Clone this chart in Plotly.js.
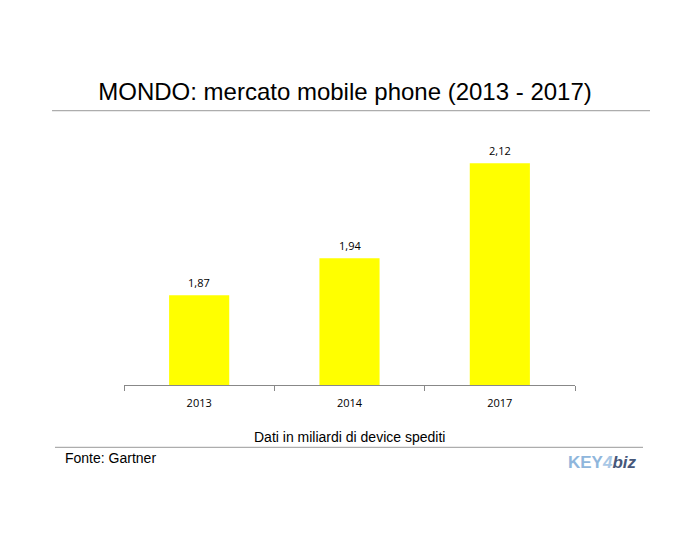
<!DOCTYPE html>
<html>
<head>
<meta charset="utf-8">
<script src="https://cdn.plot.ly/plotly-3.0.1.min.js"></script>
<style>html,body{margin:0;padding:0;background:#fff;}#chart{width:700px;height:550px;}</style>
</head>
<body>
<div id="chart"></div>
<script>
var years = ['2013', '2014', '2017'];
var shipments = [1.87, 1.94, 2.12];
var titleText = 'MONDO: mercato mobile phone (2013 - 2017)';
var noteText = 'Dati in miliardi di device spediti';
var sourceText = 'Fonte: Gartner';

var trace = {
  type: 'bar',
  x: years,
  y: shipments,
  marker: {color: '#ffff00'},
  hoverinfo: 'none'
};

var annotations = years.map(function (yr, i) {
  return {
    x: i, y: shipments[i], xref: 'x', yref: 'y',
    text: shipments[i].toFixed(2).replace('.', ','),
    showarrow: false, yanchor: 'middle', yshift: 13,
    font: {family: 'Open Sans, DejaVu Sans, sans-serif', size: 11, color: '#000'}
  };
});
annotations.push({
  xref: 'paper', yref: 'paper', x: 0.501, y: -0.197,
  text: noteText, showarrow: false, xanchor: 'center', yanchor: 'middle',
  font: {family: 'Liberation Sans, Arial, sans-serif', size: 14, color: '#000'}
});
annotations.push({
  xref: 'paper', yref: 'paper', x: -0.136, y: -0.2765,
  text: sourceText, showarrow: false, xanchor: 'left', yanchor: 'middle',
  font: {family: 'Liberation Sans, Arial, sans-serif', size: 14, color: '#000'}
});
annotations.push({
  xref: 'paper', yref: 'paper', x: 1.062, y: -0.2917,
  text: "<span style='color:#8fb6dc'><b>KEY</b></span><span style='color:#a9c8e6'><b><i>4</i></b></span><span style='color:#46577a'><b><i>biz</i></b></span>",
  showarrow: false, xanchor: 'center', yanchor: 'middle',
  font: {family: 'Liberation Sans, Arial, sans-serif', size: 17}
});

var layout = {
  width: 700, height: 550,
  margin: {l: 124, r: 125, t: 121, b: 165, pad: 0},
  paper_bgcolor: '#fff', plot_bgcolor: '#fff',
  showlegend: false,
  bargap: 0.6,
  title: {
    text: titleText,
    x: 345 / 700, xanchor: 'center', xref: 'container',
    y: 1 - 92 / 550, yanchor: 'middle', yref: 'container',
    font: {family: 'Liberation Sans, Arial, sans-serif', size: 24, color: '#000'}
  },
  xaxis: {
    type: 'category',
    range: [-0.5, 2.5], autorange: false,
    showline: true, linecolor: '#888', linewidth: 1,
    ticks: 'outside', tickson: 'boundaries', ticklen: 5, tickcolor: '#888', tickwidth: 1,
    ticklabelstandoff: 8,
    showgrid: false, zeroline: false,
    tickfont: {family: 'Open Sans, DejaVu Sans, sans-serif', size: 11, color: '#000'}
  },
  yaxis: {
    range: [1.7, 2.2], autorange: false,
    visible: false, showgrid: false, zeroline: false
  },
  shapes: [
    {type: 'line', xref: 'paper', yref: 'paper', x0: -0.1596, x1: 1.1663, y0: 1.039, y1: 1.039,
     line: {color: '#999', width: 1}},
    {type: 'line', xref: 'paper', yref: 'paper', x0: -0.153, x1: 1.1508, y0: -0.236, y1: -0.236,
     line: {color: '#999', width: 1}}
  ],
  annotations: annotations
};

Plotly.newPlot('chart', [trace], layout, {displayModeBar: false, staticPlot: true});
</script>
</body>
</html>
